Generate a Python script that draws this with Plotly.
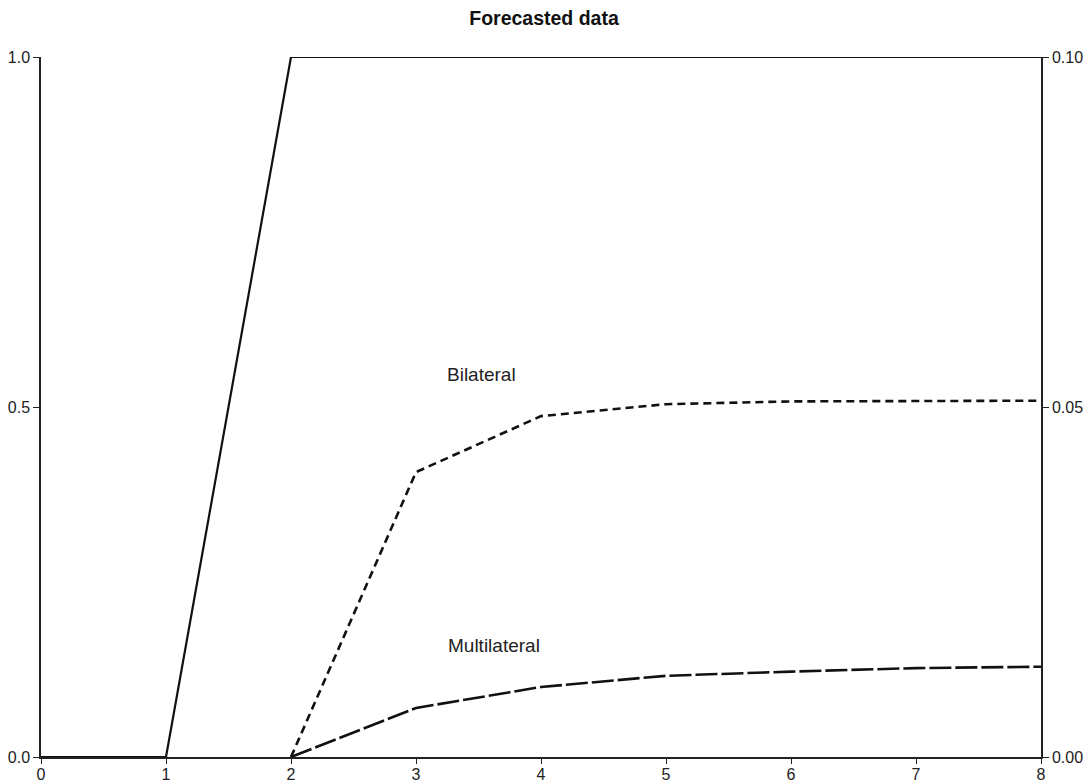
import plotly.graph_objects as go

periods = [0, 1, 2, 3, 4, 5, 6, 7, 8]
shock = [0, 0, 1.0, 1.0, 1.0, 1.0, 1.0, 1.0, 1.0]
resp_x = [2, 3, 4, 5, 6, 7, 8]
bilateral = [0.0, 0.0407, 0.0487, 0.0504, 0.0508, 0.0509, 0.0509]
multilateral = [0.0, 0.0070, 0.0100, 0.0116, 0.0122, 0.0127, 0.0129]

left_ticks = [0, 0.5, 1.0]
left_labels = ["0.0", "0.5", "1.0"]
right_ticks = [0, 0.05, 0.10]
right_labels = ["0.00", "0.05", "0.10"]

FONT = "Liberation Sans, Arial, Helvetica, sans-serif"

# page has an 8px body margin; figure is sized to fill the rest of the window
W, H = 1084, 775

fig = go.Figure()
fig.add_trace(go.Scatter(x=periods, y=shock, mode="lines",
                         line=dict(color="#111", width=2.2),
                         cliponaxis=False, showlegend=False))
fig.add_trace(go.Scatter(x=resp_x, y=bilateral, mode="lines", yaxis="y2",
                         line=dict(color="#111", width=2.6, dash="8px,5px"),
                         cliponaxis=False, showlegend=False))
fig.add_trace(go.Scatter(x=resp_x, y=multilateral, mode="lines", yaxis="y2",
                         line=dict(color="#111", width=2.6, dash="22px,4px"),
                         cliponaxis=False, showlegend=False))

fig.add_annotation(x=3.23, y=0.546, xref="x", yref="y", text="Bilateral",
                   showarrow=False, xanchor="left", yanchor="middle",
                   font=dict(size=19, color="#222", family=FONT))
fig.add_annotation(x=3.24, y=0.159, xref="x", yref="y", text="Multilateral",
                   showarrow=False, xanchor="left", yanchor="middle",
                   font=dict(size=19, color="#222", family=FONT))

fig.update_layout(
    width=W, height=H,
    paper_bgcolor="white", plot_bgcolor="white",
    margin=dict(l=33, r=51, t=49, b=26, autoexpand=False),
    font=dict(family=FONT, size=16, color="#222"),
    title=dict(text="<b>Forecasted data</b>", x=536 / W, xanchor="center",
               y=1 - 10 / H, yanchor="middle", automargin=False,
               font=dict(size=19.5, family=FONT, color="#111")),
    xaxis=dict(range=[0, 8], tickvals=periods, ticks="outside", ticklen=5,
               tickcolor="#222", showline=True, linecolor="#222", linewidth=1.5,
               showgrid=False, zeroline=False, tickfont=dict(size=16),
               ticklabelstandoff=-3, automargin=False),
    yaxis=dict(range=[0, 1], tickvals=left_ticks, ticktext=left_labels,
               ticks="outside", ticklen=6, tickcolor="#222", showline=True,
               linecolor="#222", linewidth=1.5, showgrid=False, zeroline=False,
               tickfont=dict(size=16), automargin=False),
    yaxis2=dict(range=[0, 0.10], tickvals=right_ticks, ticktext=right_labels,
                overlaying="y", side="right", ticks="outside", ticklen=6,
                tickcolor="#222", showline=True, linecolor="#222", linewidth=1.5,
                showgrid=False, zeroline=False, tickfont=dict(size=16),
                automargin=False),
)

fig.write_html("out.html")
